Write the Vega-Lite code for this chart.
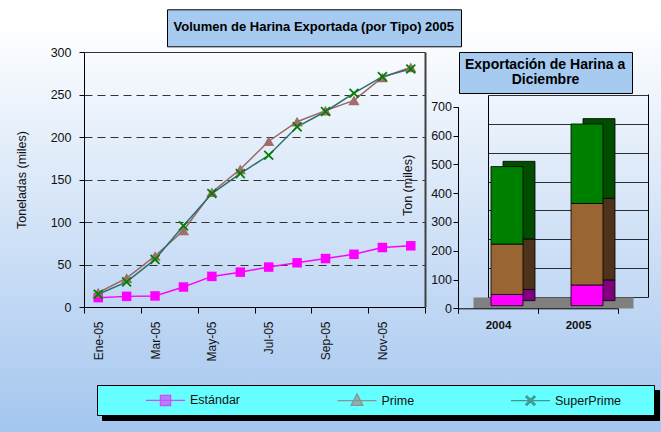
{
  "$schema": "https://vega.github.io/schema/vega-lite/v6.json",
  "width": 661,
  "height": 432,
  "autosize": "none",
  "padding": 0,
  "background": "white",
  "view": {"fill": {"gradient": "linear", "x1": 0, "y1": 0, "x2": 0, "y2": 1, "stops": [{"offset": 0, "color": "#ffffff"}, {"offset": 0.05, "color": "#ffffff"}, {"offset": 1, "color": "#a4c6ef"}]}, "stroke": null},
  "config": {
    "font": "Liberation Sans",
    "axis": {"labelFont": "Liberation Sans", "labelColor": "#111111", "labelFontSize": 12.5, "titleFont": "Liberation Sans", "titleColor": "#111111", "titleFontSize": 12.5, "titleFontWeight": "normal", "tickColor": "black", "domainColor": "black"},
    "legend": {"labelFont": "Liberation Sans", "titleFont": "Liberation Sans"}
  },
  "datasets": {
    "lineas": [
      {"m": 1, "mes": "Ene-05", "serie": "Estándar", "valor": 11},
      {"m": 2, "mes": "Feb-05", "serie": "Estándar", "valor": 12.5},
      {"m": 3, "mes": "Mar-05", "serie": "Estándar", "valor": 13},
      {"m": 4, "mes": "Abr-05", "serie": "Estándar", "valor": 23.5},
      {"m": 5, "mes": "May-05", "serie": "Estándar", "valor": 36},
      {"m": 6, "mes": "Jun-05", "serie": "Estándar", "valor": 41},
      {"m": 7, "mes": "Jul-05", "serie": "Estándar", "valor": 47},
      {"m": 8, "mes": "Ago-05", "serie": "Estándar", "valor": 52},
      {"m": 9, "mes": "Sep-05", "serie": "Estándar", "valor": 57},
      {"m": 10, "mes": "Oct-05", "serie": "Estándar", "valor": 62},
      {"m": 11, "mes": "Nov-05", "serie": "Estándar", "valor": 70},
      {"m": 12, "mes": "Dic-05", "serie": "Estándar", "valor": 72},
      {"m": 1, "mes": "Ene-05", "serie": "Prime", "valor": 17},
      {"m": 2, "mes": "Feb-05", "serie": "Prime", "valor": 34},
      {"m": 3, "mes": "Mar-05", "serie": "Prime", "valor": 60},
      {"m": 4, "mes": "Abr-05", "serie": "Prime", "valor": 90},
      {"m": 5, "mes": "May-05", "serie": "Prime", "valor": 135},
      {"m": 6, "mes": "Jun-05", "serie": "Prime", "valor": 162},
      {"m": 7, "mes": "Jul-05", "serie": "Prime", "valor": 195},
      {"m": 8, "mes": "Ago-05", "serie": "Prime", "valor": 218},
      {"m": 9, "mes": "Sep-05", "serie": "Prime", "valor": 231},
      {"m": 10, "mes": "Oct-05", "serie": "Prime", "valor": 243},
      {"m": 11, "mes": "Nov-05", "serie": "Prime", "valor": 270},
      {"m": 12, "mes": "Dic-05", "serie": "Prime", "valor": 282},
      {"m": 1, "mes": "Ene-05", "serie": "SuperPrime", "valor": 15},
      {"m": 2, "mes": "Feb-05", "serie": "SuperPrime", "valor": 29.5},
      {"m": 3, "mes": "Mar-05", "serie": "SuperPrime", "valor": 56},
      {"m": 4, "mes": "Abr-05", "serie": "SuperPrime", "valor": 95.5},
      {"m": 5, "mes": "May-05", "serie": "SuperPrime", "valor": 133.5},
      {"m": 6, "mes": "Jun-05", "serie": "SuperPrime", "valor": 157},
      {"m": 7, "mes": "Jul-05", "serie": "SuperPrime", "valor": 178.5},
      {"m": 8, "mes": "Ago-05", "serie": "SuperPrime", "valor": 212},
      {"m": 9, "mes": "Sep-05", "serie": "SuperPrime", "valor": 230},
      {"m": 10, "mes": "Oct-05", "serie": "SuperPrime", "valor": 251.5},
      {"m": 11, "mes": "Nov-05", "serie": "SuperPrime", "valor": 271},
      {"m": 12, "mes": "Dic-05", "serie": "SuperPrime", "valor": 280}
    ],
    "barras": [
      {"anio": "2004", "tipo": "Estándar", "valor": 39},
      {"anio": "2004", "tipo": "Prime", "valor": 175},
      {"anio": "2004", "tipo": "SuperPrime", "valor": 269},
      {"anio": "2005", "tipo": "Estándar", "valor": 72},
      {"anio": "2005", "tipo": "Prime", "valor": 283},
      {"anio": "2005", "tipo": "SuperPrime", "valor": 276}
    ]
  },
  "layer": [
    {
      "data": {"name": "barras"},
      "mark": {"type": "bar", "width": {"band": 0.4}, "xOffset": -9, "yOffset": 3.7, "stroke": "black", "strokeWidth": 0.8},
      "encoding": {
        "x": {"field": "anio", "type": "nominal", "scale": {"domain": ["2004", "2005"], "range": [488, 648], "paddingInner": 0, "paddingOuter": 0},
          "axis": {"orient": "bottom", "offset": -129.5, "position": -15, "domainWidth": 11, "domainColor": "#808080", "domainCap": "butt", "labels": false, "ticks": false, "grid": false, "title": null}},
        "y": {"field": "valor", "type": "quantitative", "stack": "zero", "scale": {"domain": [0, 700], "range": [297, 95], "nice": false},
          "axis": {"orient": "left", "offset": -488, "values": [0, 100, 200, 300, 400, 500, 600, 700], "labels": false, "ticks": false, "domainColor": "black", "grid": true, "gridColor": "black", "gridWidth": 0.8, "title": null}},
        "order": {"field": "tipo", "type": "nominal", "sort": "ascending"},
        "fill": {"field": "tipo", "type": "nominal", "scale": {"domain": ["Estándar", "Prime", "SuperPrime"], "range": ["#800080", "#4d3319", "#004d00"]}, "legend": null}
      }
    },
    {
      "data": {"name": "barras"},
      "transform": [{"filter": "false"}],
      "mark": {"type": "bar"},
      "encoding": {
        "x": {"field": "anio", "type": "nominal", "scale": {"domain": ["2004", "2005"], "range": [488, 648], "paddingInner": 0, "paddingOuter": 0}, "axis": null},
        "y": {"field": "valor", "type": "quantitative", "scale": {"domain": [0, 700], "range": [297, 94], "nice": false},
          "axis": {"orient": "right", "offset": -13, "labels": false, "ticks": false, "grid": false, "domainColor": "black", "domainWidth": 1, "title": null}}
      }
    },
    {
      "data": {"name": "barras"},
      "mark": {"type": "bar", "width": {"band": 0.4}, "xOffset": 9, "yOffset": -2.6, "strokeWidth": 0.8},
      "encoding": {
        "x": {"field": "anio", "type": "nominal", "scale": {"domain": ["2004", "2005"], "range": [458, 618], "paddingInner": 0, "paddingOuter": 0},
          "axis": {"orient": "bottom", "offset": -123.7, "tickBand": "extent", "labelAngle": 0, "labelFontSize": 11.5, "labelFontWeight": "bold", "labelPadding": 6, "tickSize": 5, "grid": false, "title": null}},
        "y": {"field": "valor", "type": "quantitative", "stack": "zero", "scale": {"domain": [0, 700], "range": [308.3, 106.7], "nice": false},
          "axis": {"orient": "left", "offset": -458, "values": [0, 100, 200, 300, 400, 500, 600, 700], "tickSize": 5, "labelPadding": 1.5, "grid": false, "title": "Ton (miles)", "titleX": -43.5, "titleY": 185, "titleAngle": 270, "titleBaseline": "bottom", "titleAlign": "center"}},
        "order": {"field": "tipo", "type": "nominal", "sort": "ascending"},
        "fill": {"field": "tipo", "type": "nominal", "scale": {"domain": ["Estándar", "Prime", "SuperPrime"], "range": ["#ff00ff", "#996633", "#008000"]},
          "legend": {"orient": "none", "legendX": 97, "legendY": 385, "title": null, "values": ["Estándar", "SuperPrime"], "direction": "horizontal", "columns": 2, "columnPadding": 526, "symbolSize": 1, "symbolStrokeWidth": 0, "symbolOpacity": 0, "labelExpr": "''", "labelFontSize": 1, "labelOffset": 0, "padding": 14.5, "fillColor": "#66ffff", "strokeColor": "black", "zindex": 2}},
        "stroke": {"field": "tipo", "type": "nominal", "scale": {"domain": ["SuperPrime", "Prime", "Estándar"], "range": ["#000000", "#000000", "#000000"]},
          "legend": {"orient": "none", "legendX": 102, "legendY": 390, "title": null, "values": ["SuperPrime", "Estándar"], "direction": "horizontal", "columns": 2, "columnPadding": 526, "symbolSize": 1, "symbolStrokeWidth": 0, "symbolOpacity": 0, "labelExpr": "''", "labelFontSize": 1, "labelOffset": 0, "padding": 14.5, "fillColor": "black", "strokeColor": "black", "zindex": 1}},
        "opacity": {"field": "anio", "type": "ordinal", "scale": {"domain": ["2004", "2005"], "range": [1, 1]},
          "legend": {"orient": "none", "legendX": 459, "legendY": 52, "title": ["Exportación de Harina a", "\u200b\u00a0\u00a0\u00a0\u00a0\u00a0\u00a0\u00a0\u00a0\u00a0\u00a0\u00a0\u00a0Diciembre"], "titleFontSize": 14, "titleFontWeight": "bold", "titleColor": "black", "titleLineHeight": 14.5, "titleAnchor": "start", "titleAlign": "left", "titleLimit": 1000, "titlePadding": 0, "values": [], "padding": 6, "fillColor": "#a6caf0", "strokeColor": "black", "zindex": 2}},
        "fillOpacity": {"field": "anio", "type": "ordinal", "scale": {"domain": ["2005", "2004"], "range": [1, 1]},
          "legend": {"orient": "none", "legendX": 464, "legendY": 56.5, "title": ["Exportación de Harina a", "\u200b\u00a0\u00a0\u00a0\u00a0\u00a0\u00a0\u00a0\u00a0\u00a0\u00a0\u00a0\u00a0Diciembre"], "titleFontSize": 14, "titleFontWeight": "bold", "titleColor": "black", "titleLineHeight": 14.5, "titleAnchor": "start", "titleAlign": "left", "titleLimit": 1000, "titlePadding": 0, "values": [], "padding": 6, "fillColor": "black", "strokeColor": "black", "zindex": 1}}
      }
    },
    {
      "data": {"name": "lineas"},
      "encoding": {
        "x": {"field": "m", "type": "quantitative", "scale": {"domain": [0.5, 12.5], "range": [84, 425], "nice": false, "zero": false},
          "axis": {"orient": "bottom", "offset": -125, "values": [0.5, 1, 2.5, 3, 4.5, 5, 6.5, 7, 8.5, 9, 10.5, 11, 12.5],
            "labelExpr": "datum.value % 2 === 1 ? ['Ene-05','Feb-05','Mar-05','Abr-05','May-05','Jun-05','Jul-05','Ago-05','Sep-05','Oct-05','Nov-05','Dic-05'][datum.value - 1] : ''",
            "labelAngle": 270, "labelFontSize": 12, "labelPadding": 8, "labelOverlap": false, "labelFlush": false,
            "tickSize": 6, "tickOpacity": {"condition": {"test": "datum.value % 1 === 0", "value": 0}, "value": 1},
            "grid": false, "title": null}},
        "y": {"field": "valor", "type": "quantitative", "scale": {"domain": [0, 300], "range": [307, 52], "nice": false},
          "axis": {"orient": "left", "offset": -84, "values": [0, 50, 100, 150, 200, 250, 300], "tickSize": 5, "labelPadding": 8,
            "title": "Toneladas (miles)", "titlePadding": 22,
            "grid": true, "gridColor": "#333333",
            "gridDash": {"condition": {"test": "datum.value === 300", "value": []}, "value": [8, 5]},
            "gridOpacity": {"condition": {"test": "datum.value === 0", "value": 0}, "value": 1}}}
      },
      "layer": [
        {
          "mark": {"type": "line", "strokeWidth": 1.5},
          "encoding": {
            "stroke": {"field": "serie", "type": "nominal", "scale": {"domain": ["Estándar", "Prime", "SuperPrime"], "range": ["#ff00ff", "#996666", "#2e6e6e"]}, "legend": null}
          }
        },
        {
          "mark": {"type": "point", "filled": true, "fillOpacity": 1},
          "encoding": {
            "fill": {"field": "serie", "type": "nominal", "scale": {"domain": ["Estándar", "Prime", "SuperPrime"], "range": ["#ff00ff", "#a06c6c", "#008000"]}, "legend": null},
            "shape": {"field": "serie", "type": "nominal", "scale": {"domain": ["Estándar", "Prime", "SuperPrime"], "range": ["square", "triangle-up", "M0.806,-0.608L0.198,0L0.806,0.608L0.608,0.806L0,0.198L-0.608,0.806L-0.806,0.608L-0.198,0L-0.806,-0.608L-0.608,-0.806L0,-0.198L0.608,-0.806Z"]}, "legend": null},
            "size": {"field": "serie", "type": "nominal", "scale": {"domain": ["Estándar", "Prime", "SuperPrime"], "range": [90, 160, 144]}, "legend": null},
            "opacity": {"field": "mes", "type": "ordinal", "scale": {"domain": ["Ene-05","Feb-05","Mar-05","Abr-05","May-05","Jun-05","Jul-05","Ago-05","Sep-05","Oct-05","Nov-05","Dic-05"], "range": [1, 1]},
              "legend": {"orient": "none", "legendX": 167, "legendY": 9.3, "title": ["\u00a0", "Volumen de Harina Exportada (por Tipo) 2005", "\u00a0"], "titleFontSize": 13, "titleFontWeight": "bold", "titleColor": "black", "titleLineHeight": 5.5, "titleAnchor": "start", "titleAlign": "left", "titleLimit": 1000, "titlePadding": 0, "values": [], "padding": 6.5, "fillColor": "#a6caf0", "strokeColor": "black", "zindex": 2}},
            "fillOpacity": {"field": "mes", "type": "ordinal", "scale": {"domain": ["Dic-05","Nov-05","Oct-05","Sep-05","Ago-05","Jul-05","Jun-05","May-05","Abr-05","Mar-05","Feb-05","Ene-05"], "range": [1, 1]},
              "legend": {"orient": "none", "legendX": 171, "legendY": 13.6, "title": ["\u00a0", "Volumen de Harina Exportada (por Tipo) 2005", "\u00a0"], "titleFontSize": 13, "titleFontWeight": "bold", "titleColor": "black", "titleLineHeight": 5.5, "titleAnchor": "start", "titleAlign": "left", "titleLimit": 1000, "titlePadding": 0, "values": [], "padding": 6.5, "fillColor": "black", "strokeColor": "black", "zindex": 1}}
          }
        }
      ]
    },
    {
      "data": {"name": "lineas"},
      "transform": [{"filter": "false"}],
      "mark": {"type": "point", "filled": true, "size": 1521},
      "encoding": {
        "x": {"field": "m", "type": "quantitative", "scale": {"domain": [0.5, 12.5], "range": [84, 425], "nice": false, "zero": false}, "axis": null},
        "y": {"field": "valor", "type": "quantitative", "scale": {"domain": [0, 300], "range": [307, 52], "nice": false},
          "axis": {"orient": "right", "offset": -236, "labels": false, "ticks": false, "grid": false, "domainColor": "#404040", "domainWidth": 2, "title": null}},
        "fill": {"field": "serie", "type": "nominal", "scale": {"domain": ["Estándar", "Prime", "SuperPrime"], "range": ["#ff00ff", "#a06c6c", "#008000"]}},
        "stroke": {"field": "serie", "type": "nominal", "scale": {"domain": ["Estándar", "Prime", "SuperPrime"], "range": ["#ff00ff", "#996666", "#2e6e6e"]}},
        "shape": {"field": "serie", "type": "nominal", "scale": {"domain": ["Estándar", "Prime", "SuperPrime"], "range": ["M-1,0H1M-0.26,-0.26H0.26V0.26H-0.26Z", "M-1,0H1M-0.3,0.24L0.3,0.24L0,-0.34Z", "M-1,0H1M0.242,-0.182L0.059,0L0.242,0.182L0.182,0.242L0,0.059L-0.182,0.242L-0.242,0.182L-0.059,0L-0.242,-0.182L-0.182,-0.242L0,-0.059L0.182,-0.242Z"]},
          "legend": {"orient": "none", "legendX": 145, "legendY": 379.5, "direction": "horizontal", "columns": 3, "columnPadding": 93.5, "title": null, "symbolSize": 1521, "symbolStrokeWidth": 1.3, "labelFontSize": 12.5, "labelColor": "#111111", "labelOffset": 4, "padding": 0, "zindex": 3}}
      }
    }
  ],
  "resolve": {
    "scale": {"x": "independent", "y": "independent", "fill": "independent", "stroke": "independent", "shape": "independent", "size": "independent", "opacity": "independent", "fillOpacity": "independent"},
    "axis": {"x": "independent", "y": "independent"},
    "legend": {"fill": "independent", "stroke": "independent", "shape": "independent", "size": "independent", "opacity": "independent", "fillOpacity": "independent"}
  }
}
